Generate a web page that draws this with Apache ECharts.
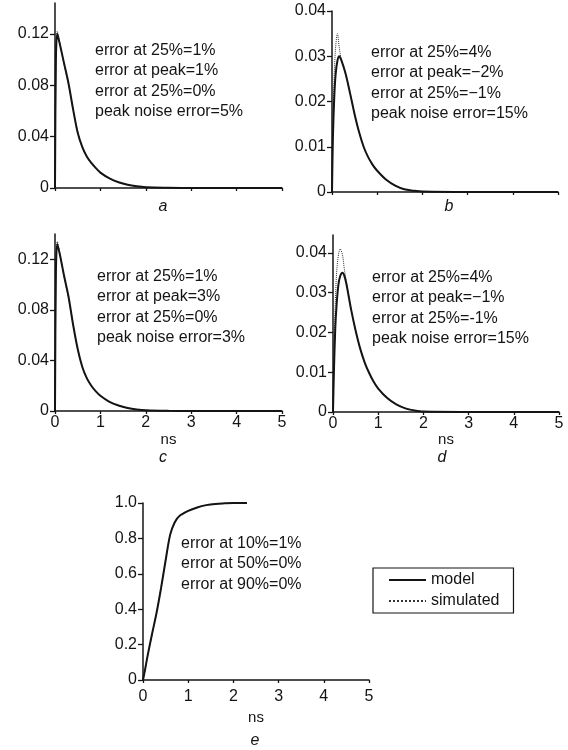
<!DOCTYPE html>
<html>
<head>
<meta charset="utf-8">
<title>model vs simulated</title>
<style>
  html, body { margin: 0; padding: 0; background: #fff; }
  #main { width: 568px; height: 750px; }
</style>
<script src="https://cdn.jsdelivr.net/npm/echarts@6/dist/echarts.min.js"></script>
</head>
<body>
<div id="main"></div>
<script>
// time in ns
const tA = [0, 0.02, 0.05, 0.1, 0.2, 0.3, 0.4, 0.5, 0.6, 0.7, 0.8, 0.9, 1.0, 1.2, 1.4, 1.6, 1.8, 2.0, 2.5, 3, 3.5, 4, 4.5, 5];
const modelA = [0, 0.100, 0.120, 0.113, 0.097, 0.081, 0.061, 0.043, 0.032, 0.0245, 0.0195, 0.0155, 0.012, 0.0075, 0.0045, 0.0025, 0.0013, 0.0006, 0.0002, 0, 0, 0, 0, 0];
const simA   = [0, 0.104, 0.122, 0.114, 0.096, 0.080, 0.061, 0.044, 0.032, 0.0245, 0.019, 0.0155, 0.0118, 0.0076, 0.0044, 0.0026, 0.0012, 0.0006, 0.0002, 0, 0, 0, 0, 0];

const tB = [0, 0.02, 0.05, 0.08, 0.12, 0.16, 0.2, 0.3, 0.4, 0.5, 0.6, 0.7, 0.8, 0.9, 1.0, 1.2, 1.4, 1.6, 1.8, 2.0, 3, 4, 5];
const modelB = [0, 0.012, 0.021, 0.026, 0.029, 0.030, 0.0293, 0.0262, 0.0218, 0.0172, 0.0132, 0.0100, 0.0077, 0.0060, 0.0047, 0.0027, 0.0014, 0.0006, 0.0003, 0.0001, 0, 0, 0];
const simB   = [0, 0.015, 0.026, 0.032, 0.035, 0.032, 0.0296, 0.0260, 0.0219, 0.0171, 0.0133, 0.0099, 0.0078, 0.0059, 0.0046, 0.0028, 0.0013, 0.0006, 0.0002, 0.0001, 0, 0, 0];

const tC = [0, 0.02, 0.05, 0.1, 0.2, 0.3, 0.4, 0.5, 0.6, 0.7, 0.8, 0.9, 1.0, 1.2, 1.4, 1.6, 1.8, 2.0, 2.5, 3, 3.5, 4, 4.5, 5];
const modelC = [0, 0.110, 0.132, 0.125, 0.107, 0.090, 0.068, 0.049, 0.035, 0.026, 0.020, 0.0155, 0.012, 0.0072, 0.0043, 0.0024, 0.0012, 0.0005, 0.0001, 0, 0, 0, 0, 0];
const simC   = [0, 0.115, 0.134, 0.126, 0.106, 0.089, 0.068, 0.049, 0.035, 0.026, 0.0198, 0.0156, 0.0119, 0.0073, 0.0042, 0.0024, 0.0011, 0.0005, 0.0001, 0, 0, 0, 0, 0];

const tD = [0, 0.02, 0.05, 0.08, 0.12, 0.16, 0.21, 0.25, 0.3, 0.4, 0.5, 0.6, 0.7, 0.8, 0.9, 1.0, 1.2, 1.4, 1.6, 1.8, 2.0, 3, 4, 5];
const modelD = [0, 0.010, 0.021, 0.027, 0.032, 0.0342, 0.035, 0.0343, 0.032, 0.0258, 0.0205, 0.0160, 0.0125, 0.0098, 0.0076, 0.0059, 0.0035, 0.0019, 0.0009, 0.0004, 0.0001, 0, 0, 0];
const simD   = [0, 0.014, 0.027, 0.035, 0.0395, 0.041, 0.0395, 0.036, 0.0325, 0.0259, 0.0204, 0.0161, 0.0124, 0.0099, 0.0075, 0.0060, 0.0034, 0.0019, 0.0010, 0.0004, 0.0001, 0, 0, 0];

const tE = [0, 0.05, 0.1, 0.2, 0.3, 0.4, 0.5, 0.6, 0.7, 0.8, 1.0, 1.2, 1.4, 1.6, 1.8, 2.0, 2.3];
const modelE = [0, 0.065, 0.135, 0.26, 0.38, 0.52, 0.675, 0.82, 0.89, 0.925, 0.955, 0.975, 0.988, 0.995, 0.998, 1.0, 1.0];
const simE   = [0, 0.06, 0.13, 0.255, 0.38, 0.525, 0.675, 0.818, 0.888, 0.924, 0.955, 0.976, 0.988, 0.994, 0.998, 0.999, 1.0];

// tick labels
const xTicks = [0, 1, 2, 3, 4, 5];
const yTicksA = [0, 0.04, 0.08, 0.12];
const yTicksB = [0, 0.01, 0.02, 0.03, 0.04];
const yTicksE = [0, 0.2, 0.4, 0.6, 0.8, 1.0];

const notesA = ['error at 25%=1%', 'error at peak=1%', 'error at 25%=0%', 'peak noise error=5%'];
const notesB = ['error at 25%=4%', 'error at peak=\u22122%', 'error at 25%=\u22121%', 'peak noise error=15%'];
const notesC = ['error at 25%=1%', 'error at peak=3%', 'error at 25%=0%', 'peak noise error=3%'];
const notesD = ['error at 25%=4%', 'error at peak=\u22121%', 'error at 25%=-1%', 'peak noise error=15%'];
const notesE = ['error at 10%=1%', 'error at 50%=0%', 'error at 90%=0%'];

const FONT = '"Liberation Sans", Arial, Helvetica, sans-serif';
const INK = '#141414';

const chart = echarts.init(document.getElementById('main'), null, { renderer: 'canvas' });

function zip(t, v) {
  return t.map((x, i) => [x, v[i]]);
}

const panels = [
  { t: tA, model: modelA, sim: simA, yMax: 0.144, yTicks: yTicksA, dec: 2, labels: false, margin: 4, nameGap: 22,
    grid: { left: 55, top: 3, width: 227, height: 185 } },
  { t: tB, model: modelB, sim: simB, yMax: 0.04, yTicks: yTicksB, dec: 2, labels: false, margin: 4, nameGap: 22,
    grid: { left: 332, top: 11, width: 226, height: 181 } },
  { t: tC, model: modelC, sim: simC, yMax: 0.14, yTicks: yTicksA, dec: 2, labels: true, margin: 4, nameGap: 21,
    grid: { left: 55, top: 234, width: 227, height: 177 } },
  { t: tD, model: modelD, sim: simD, yMax: 0.0445, yTicks: yTicksB, dec: 2, labels: true, margin: 4, nameGap: 20,
    grid: { left: 333, top: 235, width: 226, height: 177 } },
  { t: tE, model: modelE, sim: simE, yMax: 1.0, yTicks: yTicksE, dec: 1, labels: true, margin: 9, nameGap: 30,
    grid: { left: 143, top: 503, width: 226, height: 177 } }
];

const grids = [], xAxes = [], yAxes = [], series = [];

panels.forEach((p, i) => {
  grids.push(Object.assign({ outerBoundsMode: 'none' }, p.grid));
  xAxes.push({
    type: 'value', gridIndex: i, min: 0, max: 5, interval: 1,
    name: p.labels ? 'ns' : '',
    nameLocation: 'middle', nameGap: p.nameGap, nameMoveOverlap: false,
    nameTextStyle: { fontFamily: FONT, fontSize: 15, color: INK },
    axisLine: { show: true, lineStyle: { color: INK, width: 1.5 } },
    axisTick: { show: true, length: 3, lineStyle: { color: INK, width: 1.3 }, customValues: xTicks },
    axisLabel: { show: p.labels, margin: p.margin, fontFamily: FONT, fontSize: 16, color: INK, customValues: xTicks },
    splitLine: { show: false }
  });
  yAxes.push({
    type: 'value', gridIndex: i, min: 0, max: p.yMax,
    axisLine: { show: true, lineStyle: { color: INK, width: 1.5 } },
    axisTick: { show: true, length: 5, lineStyle: { color: INK, width: 1.3 }, customValues: p.yTicks },
    axisLabel: {
      margin: 6, fontFamily: FONT, fontSize: 16, color: INK, customValues: p.yTicks,
      formatter: v => (v === 0 ? '0' : v.toFixed(p.dec))
    },
    splitLine: { show: false }
  });
  series.push({
    name: 'simulated', type: 'line', xAxisIndex: i, yAxisIndex: i,
    data: zip(p.t, p.sim), symbol: 'none', smooth: 0.3, silent: true,
    itemStyle: { color: '#333' },
    lineStyle: { color: '#333', width: 1, type: 'dotted' }, z: 2
  });
  series.push({
    name: 'model', type: 'line', xAxisIndex: i, yAxisIndex: i,
    data: zip(p.t, p.model), symbol: 'none', smooth: 0.3, silent: true,
    itemStyle: { color: INK },
    lineStyle: { color: INK, width: 2 }, z: 3
  });
});

function note(x, y, lines) {
  return {
    type: 'text', x: x, y: y,
    style: { text: lines.join('\n'), fontFamily: FONT, fontSize: 16, lineHeight: 20.5, fill: INK, verticalAlign: 'top' }
  };
}
function caption(x, y, s) {
  return {
    type: 'text', x: x, y: y,
    style: { text: s, fontFamily: FONT, fontSize: 16, fontStyle: 'italic', fill: INK, align: 'center', verticalAlign: 'middle' }
  };
}

chart.setOption({
  backgroundColor: '#fff',
  animation: false,
  grid: grids,
  xAxis: xAxes,
  yAxis: yAxes,
  series: series,
  legend: {
    data: ['model', 'simulated'],
    orient: 'vertical', left: 373, top: 568,
    padding: [4, 14, 4, 15], itemGap: 5, itemWidth: 37, itemHeight: 16,
    borderColor: INK, borderWidth: 1.2, selectedMode: false,
    itemStyle: { opacity: 0 },
    textStyle: { fontFamily: FONT, fontSize: 16, color: INK }
  },
  graphic: [
    note(95, 40, notesA),
    note(371, 42, notesB),
    note(97, 266, notesC),
    note(372, 267, notesD),
    note(181, 533, notesE),
    caption(163, 207, 'a'),
    caption(449, 207, 'b'),
    caption(163, 458, 'c'),
    caption(442, 458, 'd'),
    caption(255, 741, 'e')
  ]
});
</script>
</body>
</html>
